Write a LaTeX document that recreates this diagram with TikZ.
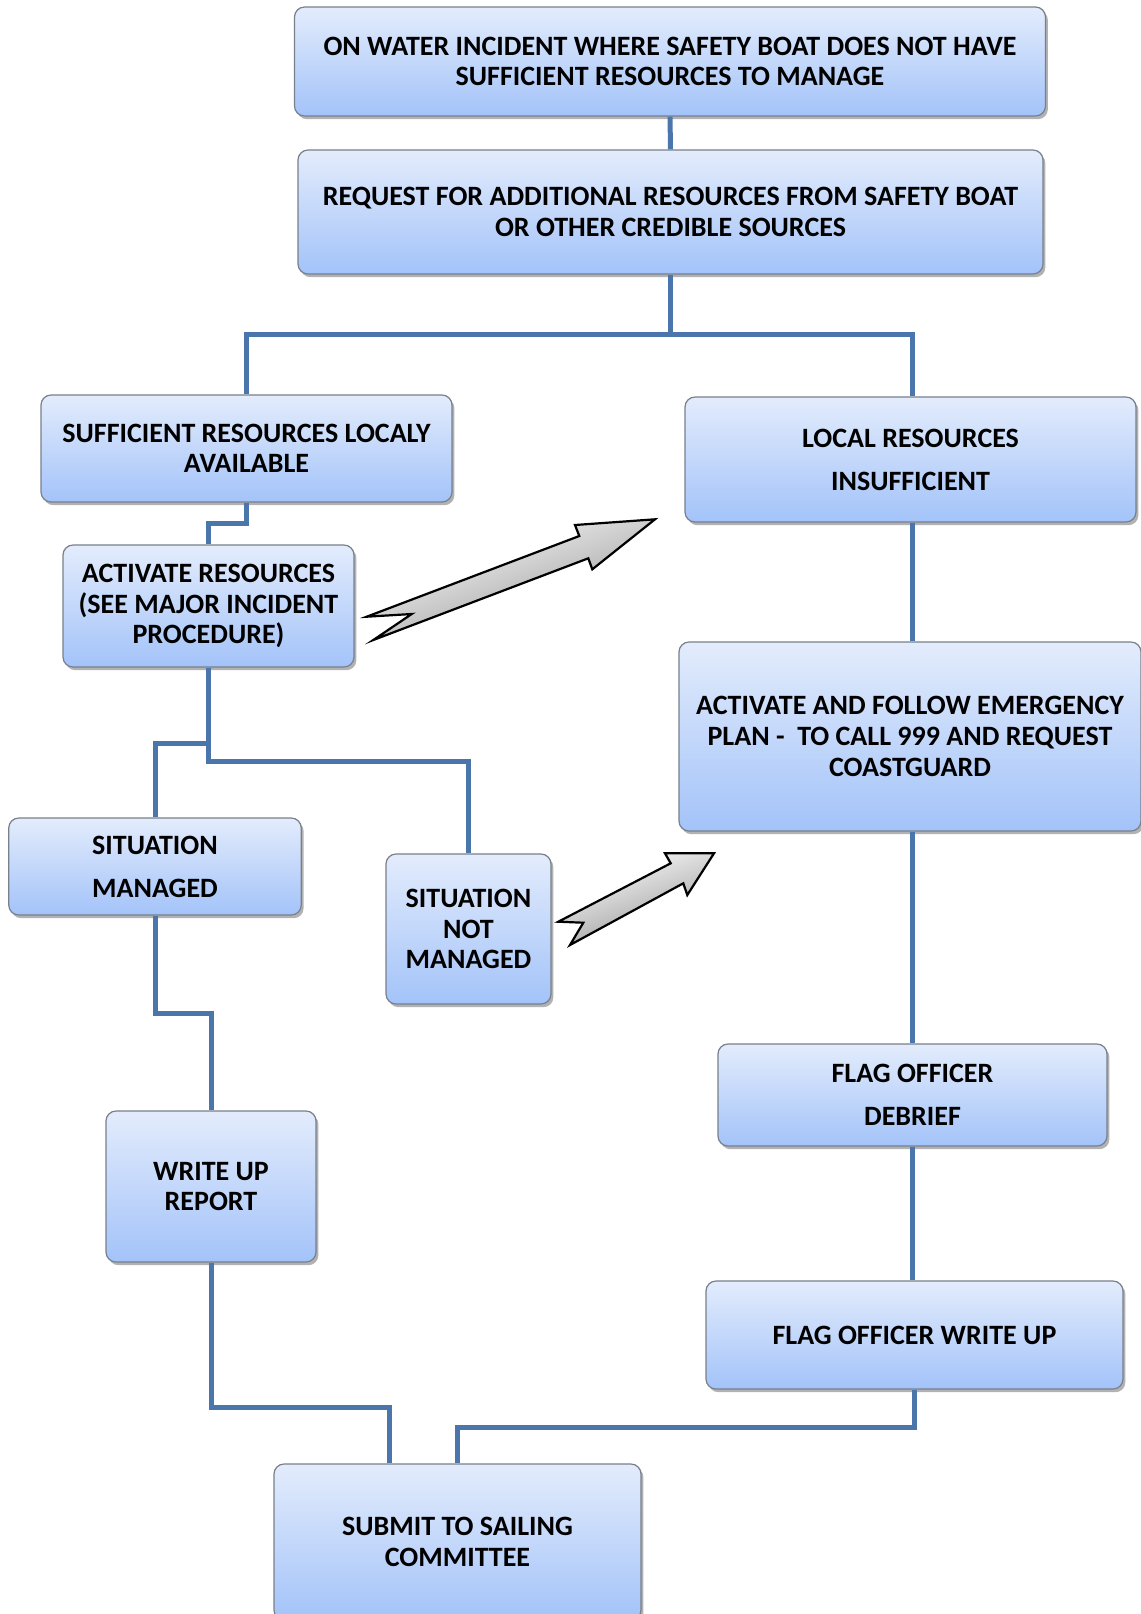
\documentclass[tikz,border=0pt]{standalone}
\usepackage{fontspec}
\setmainfont{Carlito}
\usetikzlibrary{shadows,calc}
\definecolor{boxtop}{RGB}{227,236,252}
\definecolor{boxbot}{RGB}{163,195,249}
\definecolor{boxline}{RGB}{120,128,140}
\definecolor{conn}{RGB}{74,118,172}
\tikzset{
  flowbox/.style={rectangle, rounded corners=5pt, draw=boxline, line width=0.6pt,
    top color=boxtop, bottom color=boxbot, align=center, inner sep=2pt,
    font=\fontsize{14}{15.3}\selectfont\bfseries, text=black,
    drop shadow={shadow xshift=1.2pt, shadow yshift=-1.6pt, opacity=0.3, fill=black}},
  link/.style={draw=conn, line width=2.5pt},
  blockarrow/.style={draw=black, line width=1.1pt, line join=miter,
    top color=white, bottom color=black!42, shading angle=20}
}
\begin{document}
\begin{tikzpicture}[x=0.5pt,y=-0.5pt]
\useasboundingbox (0,0) rectangle (1141,1614);
\node[flowbox, minimum width=375.5pt, minimum height=54.5pt] (b1) at (670,61.5)
  {ON WATER INCIDENT WHERE SAFETY BOAT DOES NOT HAVE\\SUFFICIENT RESOURCES TO MANAGE};
\node[flowbox, minimum width=372.5pt, minimum height=62pt] (b2) at (670.5,212)
  {REQUEST FOR ADDITIONAL RESOURCES FROM SAFETY BOAT\\OR OTHER CREDIBLE SOURCES};
\node[flowbox, minimum width=205.5pt, minimum height=53.5pt] (b3) at (246.5,448.5)
  {SUFFICIENT RESOURCES LOCALY\\AVAILABLE};
\node[flowbox, minimum width=225.5pt, minimum height=62.5pt] (b4) at (910.5,459.5)
  {LOCAL RESOURCES\\[6.2pt]INSUFFICIENT};
\node[flowbox, minimum width=145.5pt, minimum height=61pt] (b5) at (208.5,606)
  {ACTIVATE RESOURCES\\(SEE MAJOR INCIDENT\\PROCEDURE)};
\node[flowbox, minimum width=231pt, minimum height=94.5pt] (b6) at (910,736.5)
  {ACTIVATE AND FOLLOW EMERGENCY\\PLAN -\ \ TO CALL 999 AND REQUEST\\COASTGUARD};
\node[flowbox, minimum width=146.25pt, minimum height=48.5pt] (b7) at (155,866.5)
  {SITUATION\\[6.2pt]MANAGED};
\node[flowbox, minimum width=82.5pt, minimum height=75pt] (b8) at (468.5,929)
  {SITUATION\\NOT\\MANAGED};
\node[flowbox, minimum width=194.5pt, minimum height=51pt] (b9) at (912.5,1095)
  {FLAG OFFICER\\[6.5pt]DEBRIEF};
\node[flowbox, minimum width=208.5pt, minimum height=54pt] (b10) at (914.5,1335)
  {FLAG OFFICER WRITE UP};
\node[flowbox, minimum width=183.5pt, minimum height=78pt] (b11) at (457.5,1542)
  {SUBMIT TO SAILING\\COMMITTEE};
\node[flowbox, minimum width=105pt, minimum height=75.5pt] (b12) at (211,1186.5)
  {WRITE UP\\REPORT};

% junction coordinates
\coordinate (j1) at (670.5,334.5);
\coordinate (j2) at (246.5,523);
\coordinate (j3) at (208.5,743);
\coordinate (j4) at (208.5,761);
\coordinate (j5) at (155,1013);
\coordinate (j6) at (211,1407);
\coordinate (j7) at (914.5,1427);
\coordinate (b11in) at ($(b11.north)+(-68,0)$);

\path[link] (b1.south) -- (b2.north);
\path[link] (b2.south) -- (j1);
\path[link] (j1) -| (b3.north);
\path[link] (j1) -| ($(b4.north)+(1.5,0)$);
\path[link] ($(b4.south)+(1.5,0)$) -- ($(b4.south |- b6.north)+(1.5,0)$);
\path[link] (b3.south) -- (j2) -| (b5.north);
\path[link] (b5.south) -- (j4) -| (b8.north);
\path[link] (j3) -| (b7.north);
\path[link] (b9.north |- b6.south) -- (b9.north);
\path[link] (b9.south) -- (b9.south |- b10.north);
\path[link] (b7.south) -- (j5) -| (b12.north);
\path[link] (b12.south) -- (j6) -| (b11in);
\path[link] (b10.south) -- (j7) -| (b11.north);

% block arrows
\path[blockarrow] (366.7,616.7) -- (579.3,536) -- (575,525) -- (655,519.3)
  -- (592.3,569.3) -- (588.3,558.3) -- (373.3,640) -- (411.7,614) -- cycle;
\path[blockarrow] (558.3,921.7) -- (670.7,863.3) -- (665,853.3) -- (714,853.3)
  -- (687.3,895) -- (683.3,883.3) -- (570,945) -- (583.3,922.7) -- cycle;
\end{tikzpicture}
\end{document}
